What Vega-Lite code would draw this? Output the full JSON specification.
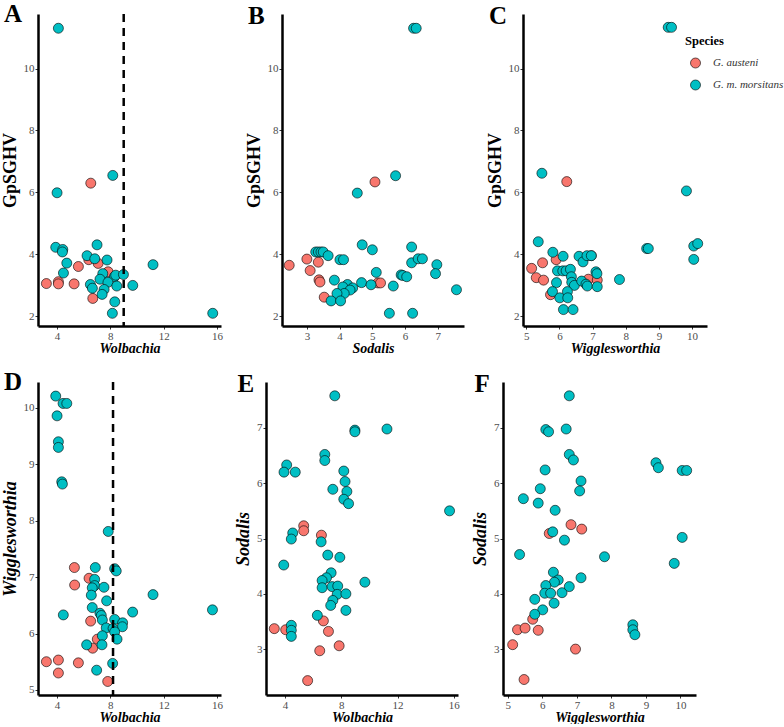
{
  "$schema": "https://vega.github.io/schema/vega-lite/v6.json",
  "padding": {"left": 1, "top": 2, "right": 0, "bottom": 0},
  "background": "white",
  "datasets": {
    "A": [
      {"Wolbachia": 6.53, "GpSGHV": 6.30, "Species": "G. austeni"},
      {"Wolbachia": 3.2, "GpSGHV": 3.06, "Species": "G. austeni"},
      {"Wolbachia": 4.1, "GpSGHV": 3.12, "Species": "G. austeni"},
      {"Wolbachia": 4.1, "GpSGHV": 3.05, "Species": "G. austeni"},
      {"Wolbachia": 5.28, "GpSGHV": 3.05, "Species": "G. austeni"},
      {"Wolbachia": 5.6, "GpSGHV": 3.61, "Species": "G. austeni"},
      {"Wolbachia": 6.38, "GpSGHV": 3.83, "Species": "G. austeni"},
      {"Wolbachia": 7.08, "GpSGHV": 3.71, "Species": "G. austeni"},
      {"Wolbachia": 7.83, "GpSGHV": 3.44, "Species": "G. austeni"},
      {"Wolbachia": 6.68, "GpSGHV": 2.58, "Species": "G. austeni"},
      {"Wolbachia": 4.1, "GpSGHV": 11.3, "Species": "G. m. morsitans"},
      {"Wolbachia": 4.0, "GpSGHV": 5.99, "Species": "G. m. morsitans"},
      {"Wolbachia": 8.18, "GpSGHV": 6.55, "Species": "G. m. morsitans"},
      {"Wolbachia": 3.9, "GpSGHV": 4.23, "Species": "G. m. morsitans"},
      {"Wolbachia": 4.43, "GpSGHV": 4.16, "Species": "G. m. morsitans"},
      {"Wolbachia": 4.4, "GpSGHV": 4.08, "Species": "G. m. morsitans"},
      {"Wolbachia": 7.0, "GpSGHV": 4.31, "Species": "G. m. morsitans"},
      {"Wolbachia": 6.25, "GpSGHV": 3.96, "Species": "G. m. morsitans"},
      {"Wolbachia": 6.83, "GpSGHV": 3.86, "Species": "G. m. morsitans"},
      {"Wolbachia": 7.75, "GpSGHV": 3.82, "Species": "G. m. morsitans"},
      {"Wolbachia": 4.73, "GpSGHV": 3.72, "Species": "G. m. morsitans"},
      {"Wolbachia": 4.48, "GpSGHV": 3.40, "Species": "G. m. morsitans"},
      {"Wolbachia": 7.43, "GpSGHV": 3.38, "Species": "G. m. morsitans"},
      {"Wolbachia": 8.3, "GpSGHV": 3.28, "Species": "G. m. morsitans"},
      {"Wolbachia": 8.4, "GpSGHV": 3.33, "Species": "G. m. morsitans"},
      {"Wolbachia": 8.98, "GpSGHV": 3.35, "Species": "G. m. morsitans"},
      {"Wolbachia": 7.22, "GpSGHV": 3.2, "Species": "G. m. morsitans"},
      {"Wolbachia": 7.82, "GpSGHV": 3.1, "Species": "G. m. morsitans"},
      {"Wolbachia": 6.5, "GpSGHV": 3.03, "Species": "G. m. morsitans"},
      {"Wolbachia": 8.48, "GpSGHV": 2.98, "Species": "G. m. morsitans"},
      {"Wolbachia": 9.68, "GpSGHV": 3.0, "Species": "G. m. morsitans"},
      {"Wolbachia": 11.2, "GpSGHV": 3.67, "Species": "G. m. morsitans"},
      {"Wolbachia": 6.65, "GpSGHV": 2.91, "Species": "G. m. morsitans"},
      {"Wolbachia": 7.53, "GpSGHV": 2.87, "Species": "G. m. morsitans"},
      {"Wolbachia": 7.38, "GpSGHV": 2.71, "Species": "G. m. morsitans"},
      {"Wolbachia": 8.33, "GpSGHV": 2.47, "Species": "G. m. morsitans"},
      {"Wolbachia": 8.15, "GpSGHV": 2.10, "Species": "G. m. morsitans"},
      {"Wolbachia": 15.68, "GpSGHV": 2.10, "Species": "G. m. morsitans"}
    ],
    "B": [
      {"Sodalis": 2.46, "GpSGHV": 3.65, "Species": "G. austeni"},
      {"Sodalis": 3.0, "GpSGHV": 3.85, "Species": "G. austeni"},
      {"Sodalis": 3.35, "GpSGHV": 3.75, "Species": "G. austeni"},
      {"Sodalis": 3.1, "GpSGHV": 3.48, "Species": "G. austeni"},
      {"Sodalis": 3.37, "GpSGHV": 3.18, "Species": "G. austeni"},
      {"Sodalis": 3.4, "GpSGHV": 3.11, "Species": "G. austeni"},
      {"Sodalis": 3.53, "GpSGHV": 2.62, "Species": "G. austeni"},
      {"Sodalis": 5.17, "GpSGHV": 3.08, "Species": "G. austeni"},
      {"Sodalis": 5.25, "GpSGHV": 3.08, "Species": "G. austeni"},
      {"Sodalis": 5.08, "GpSGHV": 6.34, "Species": "G. austeni"},
      {"Sodalis": 6.26, "GpSGHV": 11.3, "Species": "G. m. morsitans"},
      {"Sodalis": 6.34, "GpSGHV": 11.3, "Species": "G. m. morsitans"},
      {"Sodalis": 4.54, "GpSGHV": 5.98, "Species": "G. m. morsitans"},
      {"Sodalis": 5.71, "GpSGHV": 6.54, "Species": "G. m. morsitans"},
      {"Sodalis": 4.69, "GpSGHV": 4.31, "Species": "G. m. morsitans"},
      {"Sodalis": 5.0, "GpSGHV": 4.15, "Species": "G. m. morsitans"},
      {"Sodalis": 6.2, "GpSGHV": 4.24, "Species": "G. m. morsitans"},
      {"Sodalis": 3.27, "GpSGHV": 4.08, "Species": "G. m. morsitans"},
      {"Sodalis": 3.35, "GpSGHV": 4.08, "Species": "G. m. morsitans"},
      {"Sodalis": 3.43, "GpSGHV": 4.08, "Species": "G. m. morsitans"},
      {"Sodalis": 3.5, "GpSGHV": 4.08, "Species": "G. m. morsitans"},
      {"Sodalis": 3.65, "GpSGHV": 3.96, "Species": "G. m. morsitans"},
      {"Sodalis": 4.01, "GpSGHV": 3.83, "Species": "G. m. morsitans"},
      {"Sodalis": 4.12, "GpSGHV": 3.83, "Species": "G. m. morsitans"},
      {"Sodalis": 6.2, "GpSGHV": 3.73, "Species": "G. m. morsitans"},
      {"Sodalis": 6.4, "GpSGHV": 3.86, "Species": "G. m. morsitans"},
      {"Sodalis": 6.53, "GpSGHV": 3.86, "Species": "G. m. morsitans"},
      {"Sodalis": 6.97, "GpSGHV": 3.67, "Species": "G. m. morsitans"},
      {"Sodalis": 6.93, "GpSGHV": 3.38, "Species": "G. m. morsitans"},
      {"Sodalis": 5.12, "GpSGHV": 3.42, "Species": "G. m. morsitans"},
      {"Sodalis": 5.88, "GpSGHV": 3.34, "Species": "G. m. morsitans"},
      {"Sodalis": 5.93, "GpSGHV": 3.32, "Species": "G. m. morsitans"},
      {"Sodalis": 6.05, "GpSGHV": 3.28, "Species": "G. m. morsitans"},
      {"Sodalis": 3.84, "GpSGHV": 3.17, "Species": "G. m. morsitans"},
      {"Sodalis": 4.67, "GpSGHV": 3.09, "Species": "G. m. morsitans"},
      {"Sodalis": 4.96, "GpSGHV": 3.02, "Species": "G. m. morsitans"},
      {"Sodalis": 5.64, "GpSGHV": 2.98, "Species": "G. m. morsitans"},
      {"Sodalis": 4.24, "GpSGHV": 3.03, "Species": "G. m. morsitans"},
      {"Sodalis": 4.1, "GpSGHV": 2.95, "Species": "G. m. morsitans"},
      {"Sodalis": 4.4, "GpSGHV": 2.92, "Species": "G. m. morsitans"},
      {"Sodalis": 4.32, "GpSGHV": 2.85, "Species": "G. m. morsitans"},
      {"Sodalis": 4.14, "GpSGHV": 2.74, "Species": "G. m. morsitans"},
      {"Sodalis": 3.92, "GpSGHV": 2.74, "Species": "G. m. morsitans"},
      {"Sodalis": 3.74, "GpSGHV": 2.5, "Species": "G. m. morsitans"},
      {"Sodalis": 4.03, "GpSGHV": 2.5, "Species": "G. m. morsitans"},
      {"Sodalis": 7.57, "GpSGHV": 2.86, "Species": "G. m. morsitans"},
      {"Sodalis": 5.52, "GpSGHV": 2.10, "Species": "G. m. morsitans"},
      {"Sodalis": 6.23, "GpSGHV": 2.10, "Species": "G. m. morsitans"}
    ],
    "C": [
      {"Wigglesworthia": 6.22, "GpSGHV": 6.35, "Species": "G. austeni"},
      {"Wigglesworthia": 5.16, "GpSGHV": 3.55, "Species": "G. austeni"},
      {"Wigglesworthia": 5.49, "GpSGHV": 3.73, "Species": "G. austeni"},
      {"Wigglesworthia": 5.9, "GpSGHV": 3.83, "Species": "G. austeni"},
      {"Wigglesworthia": 5.3, "GpSGHV": 3.25, "Species": "G. austeni"},
      {"Wigglesworthia": 5.52, "GpSGHV": 3.17, "Species": "G. austeni"},
      {"Wigglesworthia": 5.73, "GpSGHV": 2.7, "Species": "G. austeni"},
      {"Wigglesworthia": 6.87, "GpSGHV": 3.2, "Species": "G. austeni"},
      {"Wigglesworthia": 7.14, "GpSGHV": 3.17, "Species": "G. austeni"},
      {"Wigglesworthia": 6.96, "GpSGHV": 3.96, "Species": "G. austeni"},
      {"Wigglesworthia": 9.28, "GpSGHV": 11.33, "Species": "G. m. morsitans"},
      {"Wigglesworthia": 9.38, "GpSGHV": 11.33, "Species": "G. m. morsitans"},
      {"Wigglesworthia": 5.47, "GpSGHV": 6.62, "Species": "G. m. morsitans"},
      {"Wigglesworthia": 9.83, "GpSGHV": 6.05, "Species": "G. m. morsitans"},
      {"Wigglesworthia": 5.36, "GpSGHV": 4.41, "Species": "G. m. morsitans"},
      {"Wigglesworthia": 8.63, "GpSGHV": 4.19, "Species": "G. m. morsitans"},
      {"Wigglesworthia": 8.68, "GpSGHV": 4.19, "Species": "G. m. morsitans"},
      {"Wigglesworthia": 10.05, "GpSGHV": 4.27, "Species": "G. m. morsitans"},
      {"Wigglesworthia": 10.17, "GpSGHV": 4.35, "Species": "G. m. morsitans"},
      {"Wigglesworthia": 10.05, "GpSGHV": 3.84, "Species": "G. m. morsitans"},
      {"Wigglesworthia": 5.8, "GpSGHV": 4.07, "Species": "G. m. morsitans"},
      {"Wigglesworthia": 6.11, "GpSGHV": 3.94, "Species": "G. m. morsitans"},
      {"Wigglesworthia": 6.59, "GpSGHV": 3.94, "Species": "G. m. morsitans"},
      {"Wigglesworthia": 6.71, "GpSGHV": 3.76, "Species": "G. m. morsitans"},
      {"Wigglesworthia": 6.83, "GpSGHV": 3.96, "Species": "G. m. morsitans"},
      {"Wigglesworthia": 6.96, "GpSGHV": 3.96, "Species": "G. m. morsitans"},
      {"Wigglesworthia": 5.94, "GpSGHV": 3.47, "Species": "G. m. morsitans"},
      {"Wigglesworthia": 6.1, "GpSGHV": 3.47, "Species": "G. m. morsitans"},
      {"Wigglesworthia": 6.2, "GpSGHV": 3.47, "Species": "G. m. morsitans"},
      {"Wigglesworthia": 6.33, "GpSGHV": 3.52, "Species": "G. m. morsitans"},
      {"Wigglesworthia": 6.36, "GpSGHV": 3.28, "Species": "G. m. morsitans"},
      {"Wigglesworthia": 7.1, "GpSGHV": 3.44, "Species": "G. m. morsitans"},
      {"Wigglesworthia": 7.13, "GpSGHV": 3.38, "Species": "G. m. morsitans"},
      {"Wigglesworthia": 5.91, "GpSGHV": 3.09, "Species": "G. m. morsitans"},
      {"Wigglesworthia": 6.37, "GpSGHV": 3.1, "Species": "G. m. morsitans"},
      {"Wigglesworthia": 6.45, "GpSGHV": 3.0, "Species": "G. m. morsitans"},
      {"Wigglesworthia": 6.67, "GpSGHV": 3.14, "Species": "G. m. morsitans"},
      {"Wigglesworthia": 6.8, "GpSGHV": 3.04, "Species": "G. m. morsitans"},
      {"Wigglesworthia": 6.84, "GpSGHV": 2.98, "Species": "G. m. morsitans"},
      {"Wigglesworthia": 7.14, "GpSGHV": 2.96, "Species": "G. m. morsitans"},
      {"Wigglesworthia": 7.81, "GpSGHV": 3.19, "Species": "G. m. morsitans"},
      {"Wigglesworthia": 5.79, "GpSGHV": 2.8, "Species": "G. m. morsitans"},
      {"Wigglesworthia": 6.24, "GpSGHV": 2.8, "Species": "G. m. morsitans"},
      {"Wigglesworthia": 6.01, "GpSGHV": 2.6, "Species": "G. m. morsitans"},
      {"Wigglesworthia": 6.25, "GpSGHV": 2.6, "Species": "G. m. morsitans"},
      {"Wigglesworthia": 6.12, "GpSGHV": 2.22, "Species": "G. m. morsitans"},
      {"Wigglesworthia": 6.41, "GpSGHV": 2.22, "Species": "G. m. morsitans"}
    ],
    "D": [
      {"Wolbachia": 5.3, "Wigglesworthia": 7.17, "Species": "G. austeni"},
      {"Wolbachia": 6.4, "Wigglesworthia": 6.98, "Species": "G. austeni"},
      {"Wolbachia": 5.32, "Wigglesworthia": 6.86, "Species": "G. austeni"},
      {"Wolbachia": 6.52, "Wigglesworthia": 6.22, "Species": "G. austeni"},
      {"Wolbachia": 7.02, "Wigglesworthia": 5.9, "Species": "G. austeni"},
      {"Wolbachia": 6.67, "Wigglesworthia": 5.74, "Species": "G. austeni"},
      {"Wolbachia": 3.2, "Wigglesworthia": 5.5, "Species": "G. austeni"},
      {"Wolbachia": 4.1, "Wigglesworthia": 5.53, "Species": "G. austeni"},
      {"Wolbachia": 4.1, "Wigglesworthia": 5.3, "Species": "G. austeni"},
      {"Wolbachia": 5.6, "Wigglesworthia": 5.48, "Species": "G. austeni"},
      {"Wolbachia": 7.8, "Wigglesworthia": 5.15, "Species": "G. austeni"},
      {"Wolbachia": 3.9, "Wigglesworthia": 10.21, "Species": "G. m. morsitans"},
      {"Wolbachia": 4.45, "Wigglesworthia": 10.08, "Species": "G. m. morsitans"},
      {"Wolbachia": 4.73, "Wigglesworthia": 10.08, "Species": "G. m. morsitans"},
      {"Wolbachia": 4.0, "Wigglesworthia": 9.86, "Species": "G. m. morsitans"},
      {"Wolbachia": 4.1, "Wigglesworthia": 9.4, "Species": "G. m. morsitans"},
      {"Wolbachia": 4.1, "Wigglesworthia": 9.3, "Species": "G. m. morsitans"},
      {"Wolbachia": 4.35, "Wigglesworthia": 8.69, "Species": "G. m. morsitans"},
      {"Wolbachia": 4.4, "Wigglesworthia": 8.65, "Species": "G. m. morsitans"},
      {"Wolbachia": 7.84, "Wigglesworthia": 7.81, "Species": "G. m. morsitans"},
      {"Wolbachia": 6.87, "Wigglesworthia": 7.17, "Species": "G. m. morsitans"},
      {"Wolbachia": 8.32, "Wigglesworthia": 7.15, "Species": "G. m. morsitans"},
      {"Wolbachia": 8.44, "Wigglesworthia": 7.11, "Species": "G. m. morsitans"},
      {"Wolbachia": 6.82, "Wigglesworthia": 6.96, "Species": "G. m. morsitans"},
      {"Wolbachia": 6.82, "Wigglesworthia": 6.85, "Species": "G. m. morsitans"},
      {"Wolbachia": 6.64, "Wigglesworthia": 6.81, "Species": "G. m. morsitans"},
      {"Wolbachia": 7.52, "Wigglesworthia": 6.82, "Species": "G. m. morsitans"},
      {"Wolbachia": 6.57, "Wigglesworthia": 6.68, "Species": "G. m. morsitans"},
      {"Wolbachia": 7.72, "Wigglesworthia": 6.58, "Species": "G. m. morsitans"},
      {"Wolbachia": 11.2, "Wigglesworthia": 6.69, "Species": "G. m. morsitans"},
      {"Wolbachia": 4.47, "Wigglesworthia": 6.33, "Species": "G. m. morsitans"},
      {"Wolbachia": 6.64, "Wigglesworthia": 6.46, "Species": "G. m. morsitans"},
      {"Wolbachia": 9.67, "Wigglesworthia": 6.38, "Species": "G. m. morsitans"},
      {"Wolbachia": 15.66, "Wigglesworthia": 6.42, "Species": "G. m. morsitans"},
      {"Wolbachia": 7.22, "Wigglesworthia": 6.36, "Species": "G. m. morsitans"},
      {"Wolbachia": 7.32, "Wigglesworthia": 6.32, "Species": "G. m. morsitans"},
      {"Wolbachia": 7.4, "Wigglesworthia": 6.24, "Species": "G. m. morsitans"},
      {"Wolbachia": 8.32, "Wigglesworthia": 6.25, "Species": "G. m. morsitans"},
      {"Wolbachia": 8.92, "Wigglesworthia": 6.19, "Species": "G. m. morsitans"},
      {"Wolbachia": 8.9, "Wigglesworthia": 6.12, "Species": "G. m. morsitans"},
      {"Wolbachia": 7.69, "Wigglesworthia": 6.1, "Species": "G. m. morsitans"},
      {"Wolbachia": 8.2, "Wigglesworthia": 6.09, "Species": "G. m. morsitans"},
      {"Wolbachia": 8.32, "Wigglesworthia": 6.03, "Species": "G. m. morsitans"},
      {"Wolbachia": 8.5, "Wigglesworthia": 5.9, "Species": "G. m. morsitans"},
      {"Wolbachia": 7.4, "Wigglesworthia": 5.96, "Species": "G. m. morsitans"},
      {"Wolbachia": 6.22, "Wigglesworthia": 5.8, "Species": "G. m. morsitans"},
      {"Wolbachia": 7.37, "Wigglesworthia": 5.8, "Species": "G. m. morsitans"},
      {"Wolbachia": 8.17, "Wigglesworthia": 5.47, "Species": "G. m. morsitans"},
      {"Wolbachia": 6.97, "Wigglesworthia": 5.35, "Species": "G. m. morsitans"}
    ],
    "E": [
      {"Wolbachia": 5.33, "Sodalis": 5.23, "Species": "G. austeni"},
      {"Wolbachia": 5.33, "Sodalis": 5.14, "Species": "G. austeni"},
      {"Wolbachia": 6.59, "Sodalis": 5.06, "Species": "G. austeni"},
      {"Wolbachia": 3.24, "Sodalis": 3.37, "Species": "G. austeni"},
      {"Wolbachia": 4.05, "Sodalis": 3.35, "Species": "G. austeni"},
      {"Wolbachia": 6.73, "Sodalis": 3.51, "Species": "G. austeni"},
      {"Wolbachia": 7.09, "Sodalis": 3.32, "Species": "G. austeni"},
      {"Wolbachia": 7.85, "Sodalis": 3.06, "Species": "G. austeni"},
      {"Wolbachia": 6.47, "Sodalis": 2.97, "Species": "G. austeni"},
      {"Wolbachia": 5.61, "Sodalis": 2.43, "Species": "G. austeni"},
      {"Wolbachia": 7.54, "Sodalis": 7.58, "Species": "G. m. morsitans"},
      {"Wolbachia": 8.97, "Sodalis": 6.96, "Species": "G. m. morsitans"},
      {"Wolbachia": 8.97, "Sodalis": 6.93, "Species": "G. m. morsitans"},
      {"Wolbachia": 11.25, "Sodalis": 6.98, "Species": "G. m. morsitans"},
      {"Wolbachia": 6.83, "Sodalis": 6.52, "Species": "G. m. morsitans"},
      {"Wolbachia": 6.83, "Sodalis": 6.41, "Species": "G. m. morsitans"},
      {"Wolbachia": 4.12, "Sodalis": 6.33, "Species": "G. m. morsitans"},
      {"Wolbachia": 3.93, "Sodalis": 6.2, "Species": "G. m. morsitans"},
      {"Wolbachia": 4.73, "Sodalis": 6.2, "Species": "G. m. morsitans"},
      {"Wolbachia": 8.18, "Sodalis": 6.22, "Species": "G. m. morsitans"},
      {"Wolbachia": 8.27, "Sodalis": 6.03, "Species": "G. m. morsitans"},
      {"Wolbachia": 7.4, "Sodalis": 5.89, "Species": "G. m. morsitans"},
      {"Wolbachia": 8.4, "Sodalis": 5.85, "Species": "G. m. morsitans"},
      {"Wolbachia": 8.18, "Sodalis": 5.71, "Species": "G. m. morsitans"},
      {"Wolbachia": 8.52, "Sodalis": 5.63, "Species": "G. m. morsitans"},
      {"Wolbachia": 15.7, "Sodalis": 5.5, "Species": "G. m. morsitans"},
      {"Wolbachia": 4.55, "Sodalis": 5.1, "Species": "G. m. morsitans"},
      {"Wolbachia": 4.45, "Sodalis": 4.99, "Species": "G. m. morsitans"},
      {"Wolbachia": 6.57, "Sodalis": 4.94, "Species": "G. m. morsitans"},
      {"Wolbachia": 3.91, "Sodalis": 4.52, "Species": "G. m. morsitans"},
      {"Wolbachia": 7.04, "Sodalis": 4.7, "Species": "G. m. morsitans"},
      {"Wolbachia": 7.9, "Sodalis": 4.66, "Species": "G. m. morsitans"},
      {"Wolbachia": 9.68, "Sodalis": 4.21, "Species": "G. m. morsitans"},
      {"Wolbachia": 7.28, "Sodalis": 4.38, "Species": "G. m. morsitans"},
      {"Wolbachia": 6.95, "Sodalis": 4.29, "Species": "G. m. morsitans"},
      {"Wolbachia": 6.64, "Sodalis": 4.24, "Species": "G. m. morsitans"},
      {"Wolbachia": 6.64, "Sodalis": 4.11, "Species": "G. m. morsitans"},
      {"Wolbachia": 7.35, "Sodalis": 4.13, "Species": "G. m. morsitans"},
      {"Wolbachia": 7.75, "Sodalis": 4.14, "Species": "G. m. morsitans"},
      {"Wolbachia": 7.71, "Sodalis": 3.99, "Species": "G. m. morsitans"},
      {"Wolbachia": 8.33, "Sodalis": 4.0, "Species": "G. m. morsitans"},
      {"Wolbachia": 7.4, "Sodalis": 3.88, "Species": "G. m. morsitans"},
      {"Wolbachia": 7.25, "Sodalis": 3.79, "Species": "G. m. morsitans"},
      {"Wolbachia": 8.33, "Sodalis": 3.7, "Species": "G. m. morsitans"},
      {"Wolbachia": 6.3, "Sodalis": 3.61, "Species": "G. m. morsitans"},
      {"Wolbachia": 4.45, "Sodalis": 3.43, "Species": "G. m. morsitans"},
      {"Wolbachia": 4.45, "Sodalis": 3.34, "Species": "G. m. morsitans"},
      {"Wolbachia": 4.45, "Sodalis": 3.23, "Species": "G. m. morsitans"}
    ],
    "F": [
      {"Wigglesworthia": 6.83, "Sodalis": 5.25, "Species": "G. austeni"},
      {"Wigglesworthia": 7.14, "Sodalis": 5.17, "Species": "G. austeni"},
      {"Wigglesworthia": 6.2, "Sodalis": 5.09, "Species": "G. austeni"},
      {"Wigglesworthia": 5.72, "Sodalis": 3.54, "Species": "G. austeni"},
      {"Wigglesworthia": 5.28, "Sodalis": 3.35, "Species": "G. austeni"},
      {"Wigglesworthia": 5.5, "Sodalis": 3.38, "Species": "G. austeni"},
      {"Wigglesworthia": 5.88, "Sodalis": 3.34, "Species": "G. austeni"},
      {"Wigglesworthia": 5.14, "Sodalis": 3.08, "Species": "G. austeni"},
      {"Wigglesworthia": 6.96, "Sodalis": 3.0, "Species": "G. austeni"},
      {"Wigglesworthia": 5.47, "Sodalis": 2.45, "Species": "G. austeni"},
      {"Wigglesworthia": 6.1, "Sodalis": 6.97, "Species": "G. m. morsitans"},
      {"Wigglesworthia": 6.18, "Sodalis": 6.93, "Species": "G. m. morsitans"},
      {"Wigglesworthia": 6.69, "Sodalis": 6.98, "Species": "G. m. morsitans"},
      {"Wigglesworthia": 6.78, "Sodalis": 7.58, "Species": "G. m. morsitans"},
      {"Wigglesworthia": 6.78, "Sodalis": 6.52, "Species": "G. m. morsitans"},
      {"Wigglesworthia": 6.9, "Sodalis": 6.42, "Species": "G. m. morsitans"},
      {"Wigglesworthia": 6.08, "Sodalis": 6.24, "Species": "G. m. morsitans"},
      {"Wigglesworthia": 7.12, "Sodalis": 6.04, "Species": "G. m. morsitans"},
      {"Wigglesworthia": 7.08, "Sodalis": 5.86, "Species": "G. m. morsitans"},
      {"Wigglesworthia": 5.94, "Sodalis": 5.9, "Species": "G. m. morsitans"},
      {"Wigglesworthia": 5.45, "Sodalis": 5.72, "Species": "G. m. morsitans"},
      {"Wigglesworthia": 5.88, "Sodalis": 5.64, "Species": "G. m. morsitans"},
      {"Wigglesworthia": 6.37, "Sodalis": 5.51, "Species": "G. m. morsitans"},
      {"Wigglesworthia": 6.3, "Sodalis": 5.12, "Species": "G. m. morsitans"},
      {"Wigglesworthia": 6.64, "Sodalis": 4.97, "Species": "G. m. morsitans"},
      {"Wigglesworthia": 5.34, "Sodalis": 4.71, "Species": "G. m. morsitans"},
      {"Wigglesworthia": 7.8, "Sodalis": 4.67, "Species": "G. m. morsitans"},
      {"Wigglesworthia": 6.32, "Sodalis": 4.39, "Species": "G. m. morsitans"},
      {"Wigglesworthia": 6.46, "Sodalis": 4.25, "Species": "G. m. morsitans"},
      {"Wigglesworthia": 6.35, "Sodalis": 4.21, "Species": "G. m. morsitans"},
      {"Wigglesworthia": 6.1, "Sodalis": 4.15, "Species": "G. m. morsitans"},
      {"Wigglesworthia": 7.12, "Sodalis": 4.29, "Species": "G. m. morsitans"},
      {"Wigglesworthia": 6.07, "Sodalis": 4.01, "Species": "G. m. morsitans"},
      {"Wigglesworthia": 6.24, "Sodalis": 4.01, "Species": "G. m. morsitans"},
      {"Wigglesworthia": 6.57, "Sodalis": 4.02, "Species": "G. m. morsitans"},
      {"Wigglesworthia": 6.78, "Sodalis": 4.13, "Species": "G. m. morsitans"},
      {"Wigglesworthia": 5.78, "Sodalis": 3.9, "Species": "G. m. morsitans"},
      {"Wigglesworthia": 6.34, "Sodalis": 3.83, "Species": "G. m. morsitans"},
      {"Wigglesworthia": 6.01, "Sodalis": 3.71, "Species": "G. m. morsitans"},
      {"Wigglesworthia": 5.78, "Sodalis": 3.63, "Species": "G. m. morsitans"},
      {"Wigglesworthia": 8.62, "Sodalis": 3.44, "Species": "G. m. morsitans"},
      {"Wigglesworthia": 8.62, "Sodalis": 3.35, "Species": "G. m. morsitans"},
      {"Wigglesworthia": 8.68, "Sodalis": 3.26, "Species": "G. m. morsitans"},
      {"Wigglesworthia": 9.29, "Sodalis": 6.37, "Species": "G. m. morsitans"},
      {"Wigglesworthia": 9.36, "Sodalis": 6.28, "Species": "G. m. morsitans"},
      {"Wigglesworthia": 10.05, "Sodalis": 6.23, "Species": "G. m. morsitans"},
      {"Wigglesworthia": 10.18, "Sodalis": 6.23, "Species": "G. m. morsitans"},
      {"Wigglesworthia": 10.05, "Sodalis": 5.02, "Species": "G. m. morsitans"},
      {"Wigglesworthia": 9.82, "Sodalis": 4.55, "Species": "G. m. morsitans"}
    ]
  },
  "vconcat": [
    {
      "hconcat": [
        {
          "width": 183, "height": 312,
          "title": {"text": "A"},
          "layer": [
            {
              "data": {"name": "A"},
              "mark": {"type": "point", "filled": true, "shape": "circle", "size": 100, "stroke": "black", "strokeWidth": 0.6, "opacity": 1},
              "encoding": {
                "x": {"field": "Wolbachia", "type": "quantitative", "scale": {"domain": [2.57, 16.3], "nice": false, "zero": false}, "axis": {"values": [4, 8, 12, 16], "titleFontStyle": "italic"}},
                "y": {"field": "GpSGHV", "type": "quantitative", "scale": {"domain": [1.69, 11.76], "nice": false, "zero": false}, "axis": {"values": [2, 4, 6, 8, 10]}},
                "color": {"field": "Species", "type": "nominal", "scale": {"domain": ["G. austeni", "G. m. morsitans"], "range": ["#F8766D", "#00BFC4"]}}
              }
            },
            {
              "data": {"values": [{}]},
              "mark": {"type": "rule", "color": "black", "strokeWidth": 2.5, "strokeDash": [8, 6]},
              "encoding": {"x": {"datum": 9.0}}
            }
          ]
        },
        {
          "width": 182, "height": 312,
          "title": {"text": "B"},
          "data": {"name": "B"},
          "mark": {"type": "point", "filled": true, "shape": "circle", "size": 100, "stroke": "black", "strokeWidth": 0.6, "opacity": 1},
          "encoding": {
            "x": {"field": "Sodalis", "type": "quantitative", "scale": {"domain": [2.24, 7.8], "nice": false, "zero": false}, "axis": {"values": [3, 4, 5, 6, 7], "titleFontStyle": "italic"}},
            "y": {"field": "GpSGHV", "type": "quantitative", "scale": {"domain": [1.69, 11.76], "nice": false, "zero": false}, "axis": {"values": [2, 4, 6, 8, 10]}},
            "color": {"field": "Species", "type": "nominal", "scale": {"domain": ["G. austeni", "G. m. morsitans"], "range": ["#F8766D", "#00BFC4"]}}
          }
        },
        {
          "width": 184, "height": 312,
          "title": {"text": "C"},
          "data": {"name": "C"},
          "mark": {"type": "point", "filled": true, "shape": "circle", "size": 100, "stroke": "black", "strokeWidth": 0.6, "opacity": 1},
          "encoding": {
            "x": {"field": "Wigglesworthia", "type": "quantitative", "scale": {"domain": [4.9, 10.45], "nice": false, "zero": false}, "axis": {"values": [5, 6, 7, 8, 9, 10], "titleFontStyle": "italic"}},
            "y": {"field": "GpSGHV", "type": "quantitative", "scale": {"domain": [1.69, 11.76], "nice": false, "zero": false}, "axis": {"values": [2, 4, 6, 8, 10]}},
            "color": {"field": "Species", "type": "nominal", "scale": {"domain": ["G. austeni", "G. m. morsitans"], "range": ["#F8766D", "#00BFC4"]}}
          }
        }
      ],
      "spacing": 22
    },
    {
      "hconcat": [
        {
          "width": 183, "height": 313,
          "title": {"text": "D"},
          "layer": [
            {
              "data": {"name": "D"},
              "mark": {"type": "point", "filled": true, "shape": "circle", "size": 100, "stroke": "black", "strokeWidth": 0.6, "opacity": 1},
              "encoding": {
                "x": {"field": "Wolbachia", "type": "quantitative", "scale": {"domain": [2.57, 16.3], "nice": false, "zero": false}, "axis": {"values": [4, 8, 12, 16], "titleFontStyle": "italic"}},
                "y": {"field": "Wigglesworthia", "type": "quantitative", "scale": {"domain": [4.91, 10.46], "nice": false, "zero": false}, "axis": {"values": [5, 6, 7, 8, 9, 10], "titleFontStyle": "italic"}},
                "color": {"field": "Species", "type": "nominal", "scale": {"domain": ["G. austeni", "G. m. morsitans"], "range": ["#F8766D", "#00BFC4"]}}
              }
            },
            {
              "data": {"values": [{}]},
              "mark": {"type": "rule", "color": "black", "strokeWidth": 2.5, "strokeDash": [8, 6]},
              "encoding": {"x": {"datum": 8.2}}
            }
          ]
        },
        {
          "width": 192, "height": 313,
          "title": {"text": "E"},
          "data": {"name": "E"},
          "mark": {"type": "point", "filled": true, "shape": "circle", "size": 100, "stroke": "black", "strokeWidth": 0.6, "opacity": 1},
          "encoding": {
            "x": {"field": "Wolbachia", "type": "quantitative", "scale": {"domain": [2.65, 16.3], "nice": false, "zero": false}, "axis": {"values": [4, 8, 12, 16], "titleFontStyle": "italic"}},
            "y": {"field": "Sodalis", "type": "quantitative", "scale": {"domain": [2.17, 7.83], "nice": false, "zero": false}, "axis": {"values": [3, 4, 5, 6, 7], "titleFontStyle": "italic"}},
            "color": {"field": "Species", "type": "nominal", "scale": {"domain": ["G. austeni", "G. m. morsitans"], "range": ["#F8766D", "#00BFC4"]}}
          }
        },
        {
          "width": 193, "height": 313,
          "title": {"text": "F"},
          "data": {"name": "F"},
          "mark": {"type": "point", "filled": true, "shape": "circle", "size": 100, "stroke": "black", "strokeWidth": 0.6, "opacity": 1},
          "encoding": {
            "x": {"field": "Wigglesworthia", "type": "quantitative", "scale": {"domain": [4.86, 10.45], "nice": false, "zero": false}, "axis": {"values": [5, 6, 7, 8, 9, 10], "titleFontStyle": "italic"}},
            "y": {"field": "Sodalis", "type": "quantitative", "scale": {"domain": [2.17, 7.83], "nice": false, "zero": false}, "axis": {"values": [3, 4, 5, 6, 7], "titleFontStyle": "italic"}},
            "color": {"field": "Species", "type": "nominal", "scale": {"domain": ["G. austeni", "G. m. morsitans"], "range": ["#F8766D", "#00BFC4"]}}
          }
        }
      ],
      "spacing": 11
    }
  ],
  "spacing": 15,
  "config": {
    "font": "Liberation Serif",
    "view": {"stroke": null},
    "axis": {
      "grid": false,
      "domainColor": "black",
      "domainWidth": 2.5,
      "tickColor": "#333333",
      "tickSize": 3,
      "tickWidth": 1,
      "labelFont": "Liberation Serif",
      "labelFontSize": 11,
      "labelColor": "#4D4D4D",
      "labelPadding": 1,
      "titleFont": "Liberation Serif",
      "titleFontWeight": "bold",
      "titleColor": "black"
    },
    "axisY": {"titlePadding": 4, "titleFontSize": 18},
    "axisX": {"titlePadding": 0, "titleFontSize": 14},
    "title": {"font": "Liberation Serif", "fontSize": 25, "fontWeight": "bold", "anchor": "start", "frame": "bounds", "baseline": "alphabetic", "offset": -14.5, "dx": 3, "color": "black"},
    "legend": {
      "orient": "none",
      "legendX": 647,
      "legendY": 21,
      "titleFont": "Liberation Serif",
      "titleFontSize": 12.5,
      "titleFontWeight": "bold",
      "titleColor": "black",
      "labelFont": "Liberation Serif",
      "labelFontSize": 11,
      "labelFontStyle": "italic",
      "labelColor": "#333333",
      "labelOffset": 12,
      "symbolOffset": 5,
      "symbolType": "circle",
      "symbolSize": 100,
      "symbolStrokeColor": "black",
      "symbolStrokeWidth": 0.6,
      "rowPadding": 9,
      "titlePadding": 10,
      "padding": 0
    }
  }
}
